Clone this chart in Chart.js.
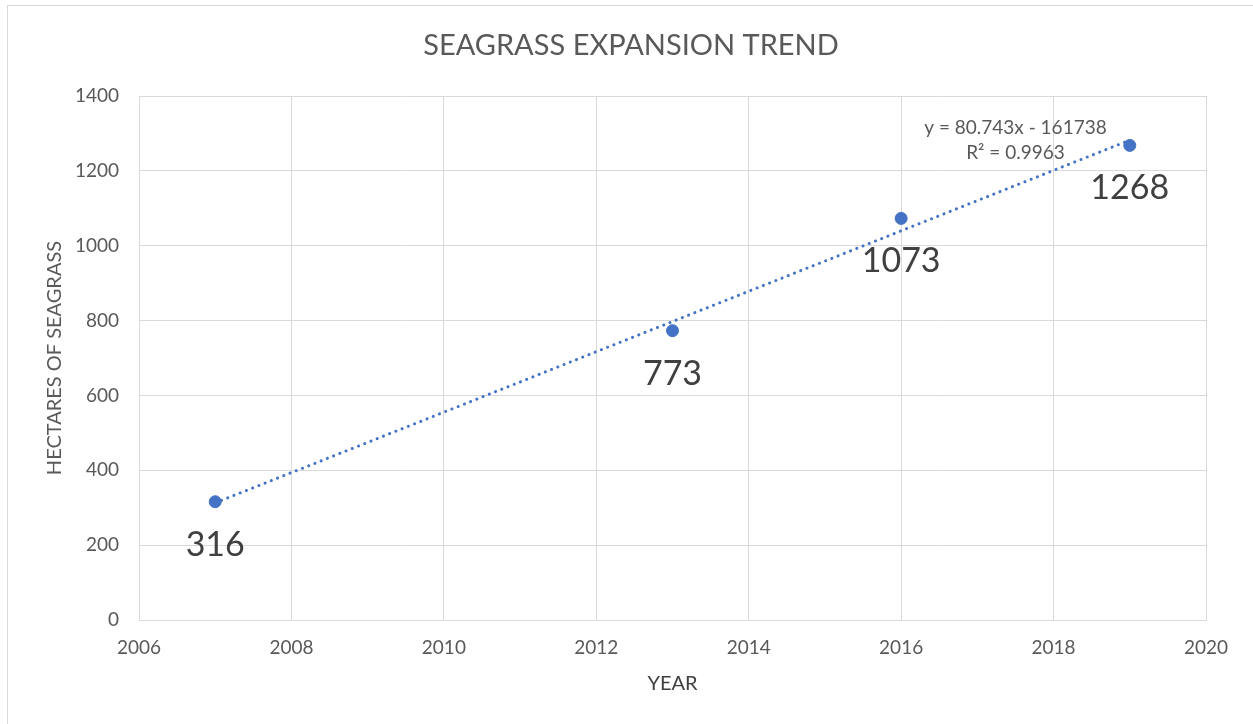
<!DOCTYPE html>
<html>
<head>
<meta charset="utf-8">
<script src="https://cdn.jsdelivr.net/npm/chart.js@4.4.0/dist/chart.umd.min.js"></script>
<style>
  html, body { margin: 0; padding: 0; background: #fff; overflow: hidden; }
  #wrap { position: absolute; left: 0; top: 0; width: 1253px; height: 724px; }
  #frame { position: absolute; left: 7px; top: 5px; width: 2000px; height: 2000px; border: 1px solid #d9d9d9; pointer-events: none; }
</style>
</head>
<body>
<div id="frame"></div>
<div id="wrap"><canvas id="seagrass"></canvas></div>
<script>
// data
const years = [2007, 2013, 2016, 2019];
const hectares = [316, 773, 1073, 1268];
// trendline end points
const trendYears = [2007, 2019];
const trendValues = [313, 1282];
const equationLines = ['y = 80.743x - 161738', 'R\u00b2 = 0.9963'];
const xTicks = [2006, 2008, 2010, 2012, 2014, 2016, 2018, 2020];
const yTicks = [0, 200, 400, 600, 800, 1000, 1200, 1400];

const BLUE = '#4472C4';
const GREY = '#595959';
const FONT = 'Lato, "Open Sans", sans-serif';

Chart.defaults.font.family = FONT;
Chart.defaults.color = GREY;

// draws title, the data labels and the trend equation
const extras = {
  id: 'extras',
  afterDatasetsDraw(chart) {
    const ctx = chart.ctx;
    const xs = chart.scales.x, ys = chart.scales.y;
    ctx.save();
    ctx.fillStyle = GREY;
    ctx.font = '29px ' + FONT;
    ctx.textAlign = 'center';
    ctx.textBaseline = 'middle';
    ctx.fillText('SEAGRASS EXPANSION TREND', 631, 46);

    ctx.fillStyle = '#404040';
    ctx.font = '34px ' + FONT;
    years.forEach((yr, i) => {
      ctx.fillText(String(hectares[i]), xs.getPixelForValue(yr), ys.getPixelForValue(hectares[i]) + 43);
    });

    ctx.fillStyle = GREY;
    ctx.font = '19px ' + FONT;
    const ex = xs.getPixelForValue(2017.5);
    ctx.fillText(equationLines[0], ex, ys.getPixelForValue(1314));
    ctx.fillText(equationLines[1], ex, ys.getPixelForValue(1248));
    ctx.restore();
  }
};

new Chart(document.getElementById('seagrass'), {
  type: 'scatter',
  data: {
    datasets: [
      {
        label: 'Hectares',
        data: years.map((x, i) => ({ x: x, y: hectares[i] })),
        backgroundColor: BLUE,
        borderColor: BLUE,
        pointRadius: 6,
        pointHoverRadius: 6
      },
      {
        type: 'line',
        label: 'Trend',
        data: trendYears.map((x, i) => ({ x: x, y: trendValues[i] })),
        borderColor: BLUE,
        borderWidth: 3,
        borderDash: [0.1, 6.6],
        borderCapStyle: 'round',
        pointRadius: 0,
        fill: false
      }
    ]
  },
  options: {
    responsive: true,
    maintainAspectRatio: false,
    animation: false,
    layout: { padding: { top: 96, right: 47, bottom: 0, left: 0 } },
    plugins: {
      legend: { display: false },
      tooltip: { enabled: false }
    },
    scales: {
      x: {
        type: 'linear',
        min: 2006,
        max: 2020,
        afterBuildTicks: s => { s.ticks = xTicks.map(v => ({ value: v })); },
        afterFit: s => { s.height = 104; },
        grid: { color: '#d9d9d9', drawTicks: false },
        border: { color: '#d9d9d9' },
        ticks: { padding: 16, font: { size: 19 }, callback: v => String(v) },
        title: { display: true, text: 'YEAR', color: '#404040', font: { size: 20 }, padding: { top: 0, bottom: 28 } }
      },
      y: {
        min: 0,
        max: 1400,
        afterBuildTicks: s => { s.ticks = yTicks.map(v => ({ value: v })); },
        afterFit: s => { s.width = 139; },
        grid: { color: '#d9d9d9', drawTicks: false },
        border: { color: '#d9d9d9' },
        ticks: { padding: 20, font: { size: 19 }, callback: v => String(v) },
        title: { display: true, text: 'HECTARES OF SEAGRASS', font: { size: 20 }, padding: { top: 43, bottom: 0 } }
      }
    }
  },
  plugins: [extras]
});
</script>
</body>
</html>
